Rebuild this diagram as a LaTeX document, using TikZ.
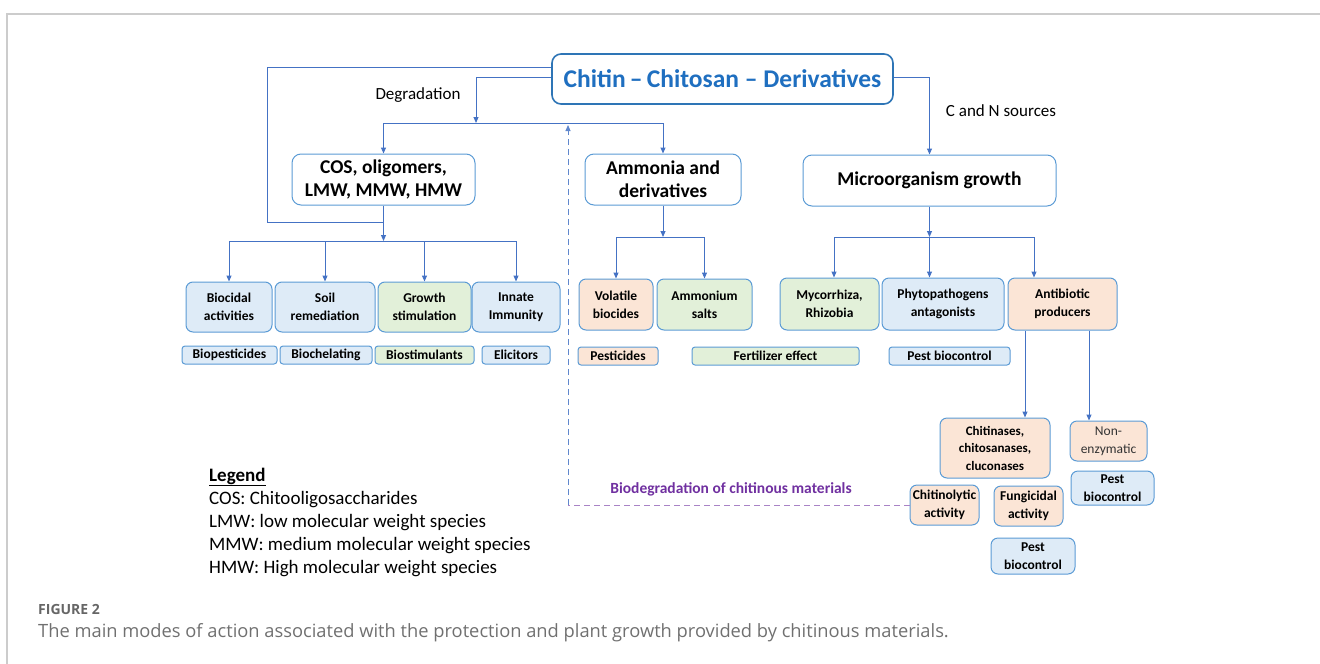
\documentclass[tikz,border=0pt]{standalone}
\usepackage{fontspec}
\setmainfont{Carlito}
\newfontfamily\capfont{Open Sans}
\usetikzlibrary{arrows.meta}
\definecolor{conn}{HTML}{4472C4}
\definecolor{bbord}{HTML}{5B9BD5}
\definecolor{tbord}{HTML}{2E75B6}
\definecolor{ttext}{HTML}{1F6FC0}
\definecolor{fblue}{HTML}{DEEBF7}
\definecolor{fgreen}{HTML}{E2F0D9}
\definecolor{forange}{HTML}{FBE5D6}
\definecolor{purp}{HTML}{7030A0}
\definecolor{framec}{HTML}{CCCCCC}
\definecolor{capgray}{HTML}{707070}
\definecolor{figgray}{HTML}{666666}
\begin{document}
\begin{tikzpicture}[x=1pt,y=-1pt,
 arr/.style={draw=conn, line width=1pt, -{Triangle[length=6pt,width=5pt]}},
 ln/.style={draw=conn, line width=1pt},
 bigbox/.style={draw=bbord, line width=1pt, rounded corners=9pt, fill=white, align=center, inner sep=0pt, font=\bfseries\fontsize{19.5}{23}\selectfont},
 sbox/.style={draw=bbord, line width=1pt, rounded corners=7pt, align=center, inner sep=0pt, font=\bfseries\fontsize{13.5}{18}\selectfont},
 lbox/.style={draw=bbord, line width=1pt, rounded corners=3pt, align=center, inner sep=0pt, font=\bfseries\fontsize{13.5}{15}\selectfont},
 bl/.style={fill=fblue}, gr/.style={fill=fgreen}, orr/.style={fill=forange},
 lab/.style={inner sep=0pt, font=\fontsize{17}{20}\selectfont},
 leg/.style={inner sep=0pt, anchor=base west, font=\fontsize{19}{22}\selectfont},
]
\useasboundingbox (0,0) rectangle (1320,664);
\draw[framec, line width=1.2pt] (7,664) -- (7,14) -- (1320,14);

% main nodes
\node[draw=tbord, line width=1.6pt, rounded corners=9pt, fill=white, inner sep=0pt,
  minimum width=341pt, minimum height=50pt, text=ttext, font=\bfseries\fontsize{25.5}{28}\selectfont]
  (title) at (722.5,79) {Chitin\,–\,Chitosan – Derivatives};
\node[bigbox, minimum width=183pt, minimum height=51pt] (cos) at (383.5,179.5) {COS, oligomers,\\LMW, MMW, HMW};
\node[bigbox, minimum width=156pt, minimum height=51pt] (amm) at (663,179.5) {Ammonia and\\derivatives};
\node[bigbox, minimum width=253pt, minimum height=51pt] (mic) at (929.5,180.5) {Microorganism growth};

\node[lab] (deg) at (418,95) {Degradation};
\node[lab] (cns) at (1001,111) {C and N sources};

% row 1
\node[sbox, bl, minimum width=86pt, minimum height=50pt] (bio) at (229,307) {Biocidal\\activities};
\node[sbox, bl, minimum width=100pt, minimum height=50pt] (soil) at (325,307) {Soil\\remediation};
\node[sbox, gr, minimum width=93pt, minimum height=50pt] (grow) at (424.5,307) {Growth\\stimulation};
\node[sbox, bl, minimum width=88pt, minimum height=50pt] (inn) at (516,307) {Innate\\Immunity};

\node[lbox, bl, minimum width=95pt, minimum height=18pt] (biop) at (229.5,355) {Biopesticides};
\node[lbox, bl, minimum width=92pt, minimum height=18pt] (bioc) at (326,355) {Biochelating};
\node[lbox, gr, minimum width=99pt, minimum height=18pt] (bios) at (424.5,355) {Biostimulants};
\node[lbox, bl, minimum width=68pt, minimum height=18pt] (eli) at (516,355) {Elicitors};

% row 2
\node[sbox, orr, minimum width=74pt, minimum height=51pt] (vol) at (616,304.5) {Volatile\\biocides};
\node[sbox, gr, minimum width=95pt, minimum height=51pt] (ams) at (704.5,304.5) {Ammonium\\salts};
\node[lbox, orr, minimum width=80pt, minimum height=18pt] (pes) at (618,356) {Pesticides};
\node[lbox, gr, minimum width=167pt, minimum height=18pt] (fer) at (775.5,356) {Fertilizer effect};

% row 3
\node[sbox, gr, minimum width=99pt, minimum height=52pt] (myc) at (829.5,304) {Mycorrhiza,\\Rhizobia};
\node[sbox, bl, minimum width=122pt, minimum height=52pt] (phy) at (943,304) {Phytopathogens\\antagonists};
\node[sbox, orr, minimum width=109pt, minimum height=52pt] (ant) at (1062.5,304) {Antibiotic\\producers};
\node[lbox, bl, minimum width=121pt, minimum height=18pt] (pbc) at (949.5,356) {Pest biocontrol};

% lower
\node[sbox, orr, minimum width=110pt, minimum height=60pt, font=\bfseries\fontsize{13}{17.5}\selectfont] (chi) at (995,448) {Chitinases,\\chitosanases,\\cluconases};
\node[sbox, orr, minimum width=77pt, minimum height=40pt, font=\fontsize{13.5}{18}\selectfont, text=black!80] (non) at (1108.5,441) {Non-\\enzymatic};
\node[sbox, bl, minimum width=83pt, minimum height=34pt] (pbr) at (1112.5,488) {Pest\\biocontrol};
\node[sbox, orr, minimum width=69pt, minimum height=40pt] (chl) at (944.5,505) {Chitinolytic\\activity};
\node[sbox, orr, minimum width=69pt, minimum height=40pt] (fun) at (1028.5,506) {Fungicidal\\activity};
\node[sbox, bl, minimum width=84pt, minimum height=36pt] (pbb) at (1033,556) {Pest\\biocontrol};

% coordinates
\coordinate (yl1) at (0,67);
\coordinate (yl2) at (0,77);
\coordinate (outer) at (267,222);
\coordinate (degx) at (476,0);
\coordinate (bar0) at (0,123);
\coordinate (bar1) at (0,241);
\coordinate (bar2) at (0,237);
\coordinate (a1) at (834,237);
\coordinate (a3) at (1034,237);
\coordinate (c1) at (1025,0);
\coordinate (c2) at (1089,0);
\coordinate (dx) at (568,0);

% connectors
\draw[ln] (title.west |- yl1) -| (outer) -- (outer -| cos.south);
\draw[arr] (title.west |- yl2) -| (degx |- bar0);
\draw[ln] (cos.north |- bar0) -- (amm.north |- bar0);
\draw[arr] (cos.north |- bar0) -- (cos.north);
\draw[arr] (amm.north |- bar0) -- (amm.north);
\draw[arr] (title.east |- yl2) -| (mic.north);

\draw[arr] (cos.south) -- (cos.south |- bar1);
\draw[ln] (bio.north |- bar1) -- (inn.north |- bar1);
\foreach \n in {bio,soil,grow,inn} \draw[arr] (\n.north |- bar1) -- (\n.north);

\draw[arr] (amm.south) -- (amm.south |- bar2);
\draw[ln] (vol.north |- bar2) -- (ams.north |- bar2);
\foreach \n in {vol,ams} \draw[arr] (\n.north |- bar2) -- (\n.north);

\draw[arr] (mic.south) -- (mic.south |- bar2);
\draw[ln] (a1) -- (a3);
\draw[arr] (a1) -- (a1 |- myc.north);
\draw[arr] (mic.south |- bar2) -- (mic.south |- phy.north);
\draw[arr] (a3) -- (a3 |- ant.north);

\draw[arr] (c1 |- ant.south) -- (c1 |- chi.north);
\draw[arr] (c2 |- ant.south) -- (c2 |- non.north);

\draw[purp!60, line width=1pt, dash pattern=on 6pt off 4pt] (chl.west) -- (chl.west -| dx);
\draw[conn!85, line width=1pt, dash pattern=on 6pt off 4pt, -{Triangle[length=6pt,width=5pt]}, shorten >=2pt] (chl.west -| dx) -- (dx |- bar0);
\node[inner sep=0pt, text=purp, font=\bfseries\fontsize{15.5}{18}\selectfont] (bdl) at (731,489) {Biodegradation of chitinous materials};

% legend
\node[leg] (l0) at (209,481) {\textbf{\underline{Legend}}};
\node[leg] (l1) at (209,504) {COS: Chitooligosaccharides};
\node[leg] (l2) at (209,527) {LMW: low molecular weight species};
\node[leg] (l3) at (209,550) {MMW: medium molecular weight species};
\node[leg] (l4) at (209,573) {HMW: High molecular weight species};

% caption
\node[inner sep=0pt, anchor=base west, text=figgray, font=\capfont\bfseries\fontsize{14}{16}\selectfont] (cap1) at (38,614) {FIGURE 2};
\node[inner sep=0pt, anchor=base west, text=capgray, font=\capfont\fontsize{18.3}{21}\selectfont] (cap2) at (38,637) {The main modes of action associated with the protection and plant growth provided by chitinous materials.};
\end{tikzpicture}
\end{document}
